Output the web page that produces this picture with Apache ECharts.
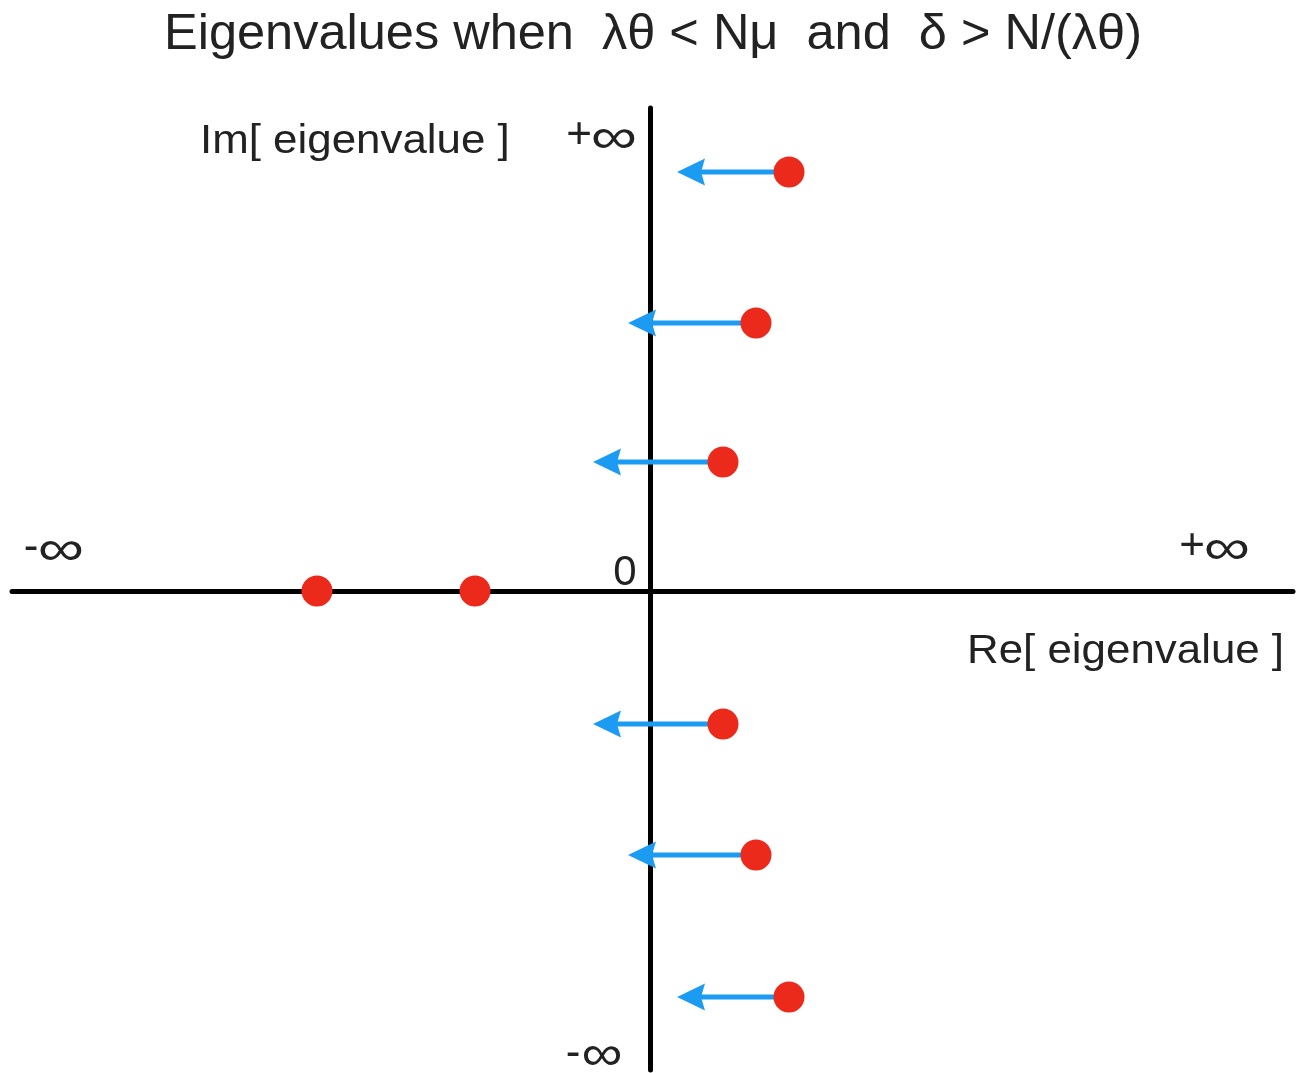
<!DOCTYPE html>
<html>
<head>
<meta charset="utf-8">
<script src="https://cdn.jsdelivr.net/npm/echarts@6/dist/echarts.min.js"></script>
<style>html,body{margin:0;padding:0;background:#fff}#c{width:1296px;height:1073px}</style>
</head>
<body>
<div id="c"></div>
<script>
// Eigenvalue positions (real, imaginary), arbitrary units
var eigRe = [1.39, 1.06, 0.73, -3.33, -1.75, 0.73, 1.06, 1.39];
var eigIm = [4.19, 2.68, 1.29, 0, 0, -1.33, -2.64, -4.06];
// Arrows: which eigenvalue moves, and the real part its arrow points to
var arrowIdx = [0, 1, 2, 5, 6, 7];
var arrowTipRe = [0.27, -0.22, -0.57, -0.57, -0.22, 0.27];

var titleText = 'Eigenvalues when  \u03bb\u03b8 < N\u03bc  and  \u03b4 > N/(\u03bb\u03b8)';

var chart = echarts.init(document.getElementById('c'));
var font = '"Liberation Sans", Arial, sans-serif';
var textCol = '#222';
var arrowCol = '#1b9cf2';

var dots = eigRe.map(function (r, i) { return [r, eigIm[i]]; });
var arrowData = arrowIdx.map(function (k, j) { return [eigRe[k], eigIm[k], arrowTipRe[j]]; });

function renderArrow(params, api) {
  var p0 = api.coord([api.value(0), api.value(1)]);
  var p1 = api.coord([api.value(2), api.value(1)]);
  var L = 28, H = 13.5, notch = 4;
  var y = p0[1];
  return {
    type: 'group',
    children: [
      { type: 'line', shape: { x1: p0[0], y1: y, x2: p1[0] + L - notch - 1, y2: y },
        style: { stroke: arrowCol, lineWidth: 5 } },
      { type: 'polygon', shape: { points: [[p1[0], y], [p1[0] + L, y - H], [p1[0] + L - notch, y], [p1[0] + L, y + H]] },
        style: { fill: arrowCol } }
    ]
  };
}

function inf(x, y, sx) {
  return { type: 'text', x: x, y: y, scaleX: sx, scaleY: 1,
    style: { text: '\u221e', font: '50px ' + font, fill: textCol, align: 'center', verticalAlign: 'middle' } };
}
function sign(t, x, y) {
  return { type: 'text', x: x, y: y,
    style: { text: t, font: '44px ' + font, fill: textCol, align: 'center', verticalAlign: 'middle' } };
}

chart.setOption({
  backgroundColor: '#fff',
  animation: false,
  grid: { left: 12, right: 3, top: 108, bottom: 3 },
  xAxis: {
    type: 'value', min: -6.38, max: 6.43,
    axisLine: { onZero: true, lineStyle: { color: '#000', width: 5 } },
    axisTick: { show: false }, axisLabel: { show: false }, splitLine: { show: false }
  },
  yAxis: {
    type: 'value', min: -4.79, max: 4.83,
    axisLine: { onZero: true, lineStyle: { color: '#000', width: 5 } },
    axisTick: { show: false }, axisLabel: { show: false }, splitLine: { show: false }
  },
  series: [
    {
      type: 'custom', z: 3, renderItem: renderArrow, data: arrowData,
      encode: { x: [0, 2], y: 1 }
    },
    {
      type: 'scatter', z: 4, symbol: 'circle', symbolSize: 31,
      itemStyle: { color: '#ec2a1c', opacity: 1 },
      data: dots
    }
  ],
  graphic: [
    { type: 'text', x: 653, y: 35, style: { text: titleText, font: '50.5px ' + font, fill: textCol, align: 'center', verticalAlign: 'middle' } },
    { type: 'text', x: 200, y: 142, scaleX: 1.07,
      style: { text: 'Im[ eigenvalue ]', font: '41px ' + font, fill: textCol, verticalAlign: 'middle' } },
    { type: 'text', x: 967, y: 652, scaleX: 1.07,
      style: { text: 'Re[ eigenvalue ]', font: '41px ' + font, fill: textCol, verticalAlign: 'middle' } },
    sign('+', 579, 136), inf(614, 139, 1.3),
    sign('-', 573, 1054), inf(602, 1056, 1.15),
    sign('-', 31, 548), inf(61, 551, 1.3),
    sign('+', 1192, 547), inf(1227, 550, 1.3),
    { type: 'text', x: 625, y: 573, style: { text: '0', font: '42px ' + font, fill: textCol, align: 'center', verticalAlign: 'middle' } }
  ]
});
</script>
</body>
</html>
